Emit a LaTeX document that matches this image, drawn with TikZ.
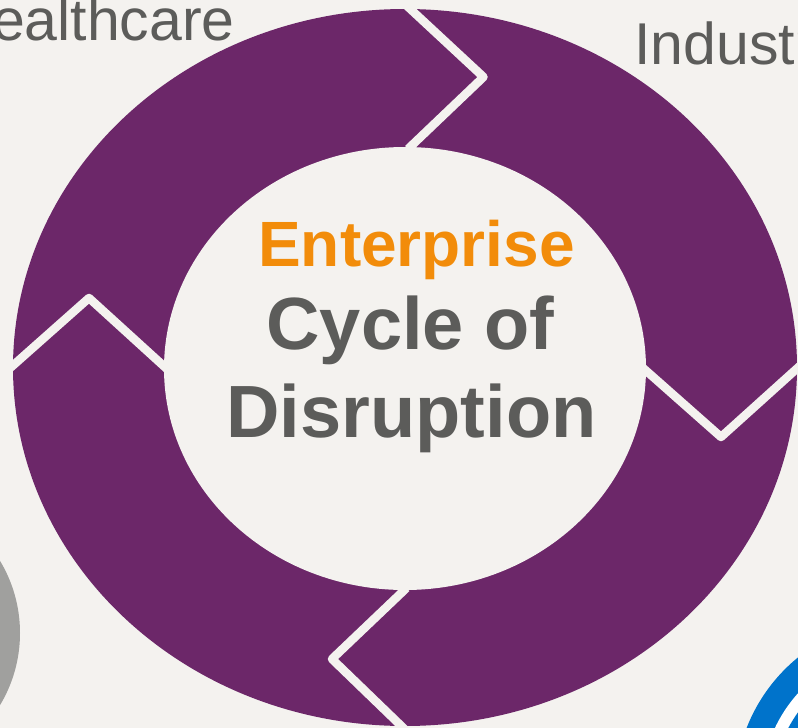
\documentclass[tikz,border=0pt]{standalone}
\usepackage{fontspec}
\setmainfont{Liberation Sans}
\definecolor{bgc}{HTML}{F4F2EF}
\definecolor{ringc}{HTML}{6C2769}
\definecolor{textc}{HTML}{5C5C5A}
\definecolor{orangec}{HTML}{F28C0A}
\definecolor{greyc}{HTML}{A0A09E}
\definecolor{bluec}{HTML}{0073CB}
\tikzset{
  sep/.style={draw=bgc,line width=8.5pt,line join=round,line cap=butt},
  lab/.style={inner sep=0pt,text=textc,font=\fontsize{59}{59}\selectfont},
  title/.style={inner sep=0pt,anchor=base,text=textc,font=\fontsize{74}{74}\selectfont\bfseries}
}
\begin{document}
\begin{tikzpicture}[x=1pt,y=-1pt]
\useasboundingbox (0,0) rectangle (798,728);
\clip (0,0) rectangle (798,728);
\fill[bgc] (0,0) rectangle (798,728);
% side pictures
\fill[greyc] (-120,633) circle[radius=140];
\fill[bluec] (906,790) circle[radius=171];
\fill[white] (906,790) circle[radius=145];
\fill[bluec] (906,790) circle[radius=133];
% ring
\fill[ringc] (405,367.5) ellipse[x radius=392,y radius=358.5];
\fill[bgc] (405,368.5) ellipse[x radius=241,y radius=221.5];
% separators
\coordinate (t1) at (406,5);
\coordinate (t2) at (483.5,77);
\coordinate (t3) at (408,149);
\coordinate (r1) at (643,368);
\coordinate (r2) at (721,437);
\coordinate (r3) at (802,364);
\coordinate (b1) at (406.5,588);
\coordinate (b2) at (332,659);
\coordinate (b3) at (405.5,730);
\coordinate (l1) at (167,369);
\coordinate (l2) at (89,298);
\coordinate (l3) at (9,369);
\draw[sep] (t1) -- (t2) -- (t3);
\draw[sep] (r1) -- (r2) -- (r3);
\draw[sep] (b1) -- (b2) -- (b3);
\draw[sep] (l1) -- (l2) -- (l3);
% labels
\node[lab,anchor=base east] (health) at (235,40) {Healthcare};
\node[lab,anchor=base west] (indust) at (634,64) {Industry};
\node[inner sep=0pt,anchor=base,text=orangec,font=\fontsize{64}{64}\selectfont\bfseries] (ent) at (416.5,266) {Enterprise};
\node[title] (cyc) at (410.5,349) {Cycle of};
\node[title] (dis) at (411.5,437) {Disruption};
\end{tikzpicture}
\end{document}
